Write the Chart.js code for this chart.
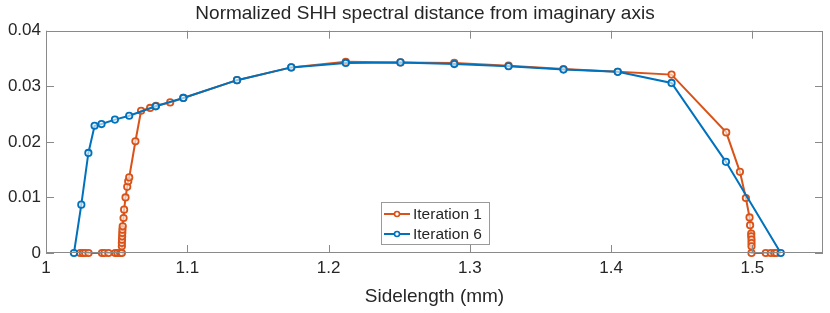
<!DOCTYPE html>
<html>
<head>
<meta charset="utf-8">
<script src="https://cdn.jsdelivr.net/npm/chart.js@4/dist/chart.umd.min.js"></script>
<style>
  html, body { margin: 0; padding: 0; background: #fff; }
  #wrap { width: 830px; height: 313px; }
</style>
</head>
<body>
<div id="wrap"><canvas id="shh_chart" width="830" height="313"></canvas></div>
<script>
// Iteration 1 (orange)
var iter1X = [1.0242, 1.0261, 1.0277, 1.0301, 1.0396, 1.0414, 1.0442, 1.0490, 1.0506, 1.0525, 1.0537,
    1.0537, 1.0537, 1.0538, 1.0539, 1.0540, 1.0541, 1.0543, 1.0549, 1.0553, 1.0563, 1.0575, 1.0582, 1.0589,
    1.0633, 1.0673, 1.0737, 1.0779, 1.0879, 1.0972, 1.1352, 1.1736, 1.2122, 1.2509, 1.2890, 1.3274, 1.3663,
    1.4047, 1.4428, 1.4815, 1.4912, 1.4954, 1.4980, 1.4984, 1.4992, 1.4992, 1.4994, 1.4994, 1.4994, 1.4994,
    1.5095, 1.5130, 1.5155, 1.5170];
var iter1Y = [0, 0, 0, 0, 0, 0, 0, 0, 0, 0, 0,
    0.0012, 0.0018, 0.0024, 0.0030, 0.0036, 0.0042, 0.0048, 0.0063, 0.0078, 0.0100, 0.0119, 0.0129, 0.0136,
    0.0201, 0.0256, 0.0261, 0.0265, 0.0271, 0.0279, 0.0311, 0.0334, 0.0344, 0.0343, 0.0342, 0.0337, 0.0331,
    0.0326, 0.0321, 0.0217, 0.0146, 0.0099, 0.0064, 0.0050, 0.0035, 0.0030, 0.0024, 0.0018, 0.0012, 0,
    0, 0, 0, 0];

// Iteration 6 (blue)
var iter6X = [1.0198, 1.0250, 1.0300, 1.0344, 1.0393, 1.0488, 1.0589, 1.0777, 1.0972, 1.1352, 1.1736,
    1.2122, 1.2509, 1.2890, 1.3274, 1.3663, 1.4047, 1.4428, 1.4813, 1.5201];
var iter6Y = [0, 0.0087, 0.0180, 0.0229, 0.0232, 0.0240, 0.0247, 0.0264, 0.0279, 0.0311, 0.0334,
    0.0342, 0.0343, 0.0340, 0.0336, 0.0330, 0.0326, 0.0306, 0.0164, 0];

var xTicks = [1, 1.1, 1.2, 1.3, 1.4, 1.5];
var xTickLabels = ['1', '1.1', '1.2', '1.3', '1.4', '1.5'];
var yTicks = [0, 0.01, 0.02, 0.03, 0.04];
var yTickLabels = ['0', '0.01', '0.02', '0.03', '0.04'];
var seriesNames = ['Iteration 1', 'Iteration 6'];
var chartTitle = 'Normalized SHH spectral distance from imaginary axis';

var ORANGE = '#D95319';
var BLUE = '#0072BD';
var TEXT = '#262626';
var FONT = "'Liberation Sans', Arial, sans-serif";

function toPoints(xs, ys) {
    return xs.map(function (x, i) { return { x: x, y: ys[i] }; });
}

// title, box, inward ticks and an in-plot legend like matlab
var matlabAxes = {
    id: 'matlabAxes',
    afterDraw: function (chart) {
        var ctx = chart.ctx, a = chart.chartArea;
        var sx = chart.scales.x, sy = chart.scales.y;
        ctx.save();

        ctx.fillStyle = TEXT;
        ctx.font = '19px ' + FONT;
        ctx.textAlign = 'center';
        ctx.textBaseline = 'middle';
        ctx.fillText(chartTitle, 425, 14);

        ctx.strokeStyle = '#8a8a8a';
        ctx.lineWidth = 1;
        ctx.beginPath();
        xTicks.forEach(function (v) {
            var px = Math.round(sx.getPixelForValue(v)) + 0.5;
            ctx.moveTo(px, a.bottom); ctx.lineTo(px, a.bottom - 8);
            ctx.moveTo(px, a.top); ctx.lineTo(px, a.top + 8);
        });
        yTicks.forEach(function (v) {
            var py = Math.round(sy.getPixelForValue(v)) + 0.5;
            ctx.moveTo(a.left, py); ctx.lineTo(a.left + 8, py);
            ctx.moveTo(a.right, py); ctx.lineTo(a.right - 8, py);
        });
        ctx.stroke();
        ctx.strokeRect(Math.round(a.left) + 0.5, Math.round(a.top) + 0.5,
            Math.round(a.width) - 1, Math.round(a.height) - 1);

        // legend
        var lx = 381, ly = 202, lw = 108, lh = 42;
        ctx.fillStyle = '#fff';
        ctx.fillRect(lx, ly, lw, lh);
        ctx.strokeStyle = '#9a9a9a';
        ctx.strokeRect(lx + 0.5, ly + 0.5, lw, lh);
        var colors = [ORANGE, BLUE];
        ctx.font = '15.5px ' + FONT;
        ctx.textAlign = 'left';
        seriesNames.forEach(function (name, i) {
            var yy = ly + 12 + i * 20;
            ctx.strokeStyle = colors[i];
            ctx.lineWidth = 2;
            ctx.beginPath();
            ctx.moveTo(lx + 3, yy); ctx.lineTo(lx + 29, yy);
            ctx.stroke();
            ctx.beginPath();
            ctx.arc(lx + 16, yy, 2.5, 0, Math.PI * 2);
            ctx.fillStyle = '#fff';
            ctx.fill();
            ctx.lineWidth = 1.6;
            ctx.stroke();
            ctx.fillStyle = TEXT;
            ctx.fillText(name, lx + 32, yy + 1);
        });
        ctx.restore();
    }
};

var config = {
    type: 'scatter',
    data: {
        datasets: [{
            label: seriesNames[0],
            data: toPoints(iter1X, iter1Y),
            showLine: true,
            borderColor: ORANGE,
            borderWidth: 2,
            pointRadius: 3.2,
            pointBorderWidth: 1.8,
            pointBorderColor: ORANGE,
            pointBackgroundColor: 'rgba(255,255,255,0.6)',
            clip: false,
            order: 1
        }, {
            label: seriesNames[1],
            data: toPoints(iter6X, iter6Y),
            showLine: true,
            borderColor: BLUE,
            borderWidth: 2,
            pointRadius: 3.2,
            pointBorderWidth: 1.8,
            pointBorderColor: BLUE,
            pointBackgroundColor: 'rgba(255,255,255,0.6)',
            clip: false,
            order: 0
        }]
    },
    options: {
        responsive: false,
        animation: false,
        layout: { padding: { left: 0, right: 7, top: 30.7, bottom: 0 } },
        plugins: {
            legend: { display: false },
            tooltip: { enabled: false },
            title: { display: false }
        },
        scales: {
            x: {
                type: 'linear',
                min: 1,
                max: 1.55,
                grid: { display: false, drawTicks: false },
                border: { display: false },
                afterBuildTicks: function (scale) {
                    scale.ticks = xTicks.map(function (v) { return { value: v }; });
                },
                afterFit: function (scale) { scale.height = 60; },
                ticks: {
                    color: TEXT,
                    padding: 5,
                    maxRotation: 0,
                    font: { family: FONT, size: 17 },
                    callback: function (v) { return xTickLabels[xTicks.indexOf(v)]; }
                },
                title: {
                    display: true,
                    text: 'Sidelength (mm)',
                    color: TEXT,
                    font: { family: FONT, size: 19 },
                    padding: { top: 2, bottom: 5 }
                }
            },
            y: {
                type: 'linear',
                min: 0,
                max: 0.04,
                grid: { display: false, drawTicks: false },
                border: { display: false },
                afterBuildTicks: function (scale) {
                    scale.ticks = yTicks.map(function (v) { return { value: v }; });
                },
                afterFit: function (scale) { scale.width = 46; },
                ticks: {
                    color: TEXT,
                    padding: 5,
                    font: { family: FONT, size: 17 },
                    callback: function (v) { return yTickLabels[yTicks.indexOf(v)]; }
                }
            }
        }
    },
    plugins: [matlabAxes]
};

var chart = new Chart(document.getElementById('shh_chart').getContext('2d'), config);
</script>
</body>
</html>
